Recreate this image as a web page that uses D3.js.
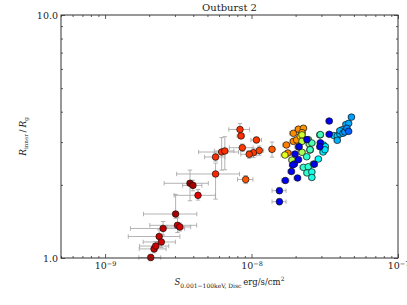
<!DOCTYPE html>
<html>
<head>
<meta charset="utf-8">
<script src="https://cdn.jsdelivr.net/npm/d3@7"></script>
<style>
  html, body { margin: 0; padding: 0; background: #fff; }
  svg { display: block; font-family: "DejaVu Serif", serif; }
</style>
</head>
<body>
<div id="chart"></div>
<script>
// Each row: [disc flux (erg/s/cm^2), R_inner/R_g, time fraction, flux err, R err low, R err high]
const riseEarly = [
    [2.05e-9, 1.005, 0.07, 0.35e-9, 0.03, 0.03],
    [2.16e-9, 1.09, 0.07, 0.45e-9, 0.04, 0.05],
    [2.22e-9, 1.12, 0.08, 0.5e-9, 0.05, 0.05],
    [2.42e-9, 1.164, 0.08, 0.6e-9, 0.06, 0.07],
    [2.34e-9, 1.226, 0.07, 0.9e-9, 0.07, 0.08],
    [2.49e-9, 1.323, 0.06, 1.0e-9, 0.08, 0.09],
    [3.12e-9, 1.363, 0.08, 1.1e-9, 0.09, 0.1],
    [3.24e-9, 1.342, 0.09, 0.6e-9, 0.05, 0.05],
    [3.03e-9, 1.517, 0.04, 1.2e-9, 0.06, 0.31],
    [4.31e-9, 1.811, 0.10, 1.35e-9, 0.08, 0.1],
    [3.80e-9, 2.03, 0.02, 1.27e-9, 0.31, 0.27],
    [3.98e-9, 1.99, 0.04, 0.6e-9, 0.1, 0.1]
];

const riseLate = [
    [5.68e-9, 2.217, 0.16, 2.6e-9, 0.47, 0.24],
    [9.12e-9, 2.104, 0.21, 1.1e-9, 0.08, 0.08],
    [5.68e-9, 2.604, 0.17, 0.9e-9, 0.1, 0.1],
    [6.25e-9, 2.73, 0.17, 1.9e-9, 0.43, 0.4],
    [6.57e-9, 2.757, 0.17, 1.0e-9, 0.45, 0.4],
    [8.34e-9, 3.38, 0.17, 1.35e-9, 0.2, 0.2],
    [8.47e-9, 3.18, 0.17, 0.5e-9, 0.08, 0.08],
    [1.08e-8, 3.06, 0.18, 0.9e-9, 0.08, 0.08],
    [8.65e-9, 2.844, 0.18, 1.6e-9, 0.1, 0.1],
    [1.13e-8, 2.769, 0.19, 0.8e-9, 0.12, 0.12],
    [1.03e-8, 2.712, 0.18, 1.0e-9, 0.12, 0.12],
    [9.64e-9, 2.672, 0.18, 1.2e-9, 0.1, 0.1],
    [1.38e-8, 2.80, 0.21, 0.6e-9, 0.2, 0.2]
];

const plateau = [
    [1.73e-8, 2.918, 0.25, 1.0e-9, 0.07, 0.07],
    [1.77e-8, 2.704, 0.25, 1.0e-9, 0.07, 0.07],
    [1.93e-8, 3.26, 0.26, 1.1e-9, 0.07, 0.07],
    [2.09e-8, 3.39, 0.26, 1.1e-9, 0.08, 0.08],
    [2.26e-8, 3.42, 0.27, 1.2e-9, 0.08, 0.08],
    [2.21e-8, 3.28, 0.28, 1.2e-9, 0.07, 0.07],
    [1.93e-8, 3.02, 0.26, 1.0e-9, 0.07, 0.07],
    [2.03e-8, 3.06, 0.27, 1.1e-9, 0.07, 0.07],
    [2.15e-8, 3.17, 0.34, 1.1e-9, 0.07, 0.07],
    [1.69e-8, 2.653, 0.40, 1.0e-9, 0.06, 0.06],
    [2.21e-8, 3.21, 0.42, 1.2e-9, 0.07, 0.07],
    [2.21e-8, 3.02, 0.44, 1.2e-9, 0.07, 0.07],
    [2.44e-8, 3.07, 0.49, 1.3e-9, 0.07, 0.07],
    [2.48e-8, 2.944, 0.50, 1.3e-9, 0.06, 0.06],
    [2.21e-8, 2.723, 0.46, 1.2e-9, 0.06, 0.06],
    [1.89e-8, 2.53, 0.45, 1.0e-9, 0.06, 0.06],
    [2.51e-8, 2.781, 0.52, 1.3e-9, 0.06, 0.06],
    [2.09e-8, 2.863, 0.47, 1.1e-9, 0.06, 0.06],
    [2.93e-8, 3.21, 0.55, 1.5e-9, 0.07, 0.07],
    [2.58e-8, 2.973, 0.55, 1.3e-9, 0.06, 0.06],
    [2.51e-8, 2.79, 0.56, 1.3e-9, 0.06, 0.06],
    [2.95e-8, 3.22, 0.56, 1.5e-9, 0.07, 0.07]
];

const cyanBranch = [
    [2.26e-8, 2.36, 0.58, 1.2e-9, 0.05, 0.05],
    [2.44e-8, 2.374, 0.58, 1.3e-9, 0.05, 0.05],
    [2.39e-8, 2.24, 0.58, 1.2e-9, 0.05, 0.05],
    [2.58e-8, 2.26, 0.60, 1.3e-9, 0.05, 0.05],
    [2.58e-8, 2.145, 0.60, 1.3e-9, 0.05, 0.05],
    [2.65e-8, 2.437, 0.58, 1.4e-9, 0.05, 0.05],
    [2.38e-8, 2.61, 0.58, 1.2e-9, 0.06, 0.06],
    [3.10e-8, 2.918, 0.64, 1.6e-9, 0.06, 0.06],
    [3.19e-8, 2.871, 0.64, 1.6e-9, 0.06, 0.06],
    [3.08e-8, 2.73, 0.64, 1.6e-9, 0.06, 0.06],
    [2.86e-8, 2.555, 0.63, 1.5e-9, 0.06, 0.06],
    [3.17e-8, 2.79, 0.65, 1.6e-9, 0.06, 0.06],
    [3.65e-8, 3.19, 0.67, 1.8e-9, 0.07, 0.07],
    [3.85e-8, 3.18, 0.67, 1.9e-9, 0.07, 0.07],
    [3.85e-8, 3.05, 0.70, 1.9e-9, 0.07, 0.07],
    [4.01e-8, 3.24, 0.69, 2.0e-9, 0.07, 0.07],
    [4.01e-8, 3.34, 0.70, 2.0e-9, 0.07, 0.07],
    [4.15e-8, 3.37, 0.69, 2.0e-9, 0.07, 0.07],
    [4.21e-8, 3.26, 0.71, 2.1e-9, 0.07, 0.07],
    [4.33e-8, 3.30, 0.73, 2.1e-9, 0.07, 0.07],
    [4.48e-8, 3.42, 0.74, 2.2e-9, 0.08, 0.08],
    [4.41e-8, 3.54, 0.70, 2.2e-9, 0.08, 0.08],
    [4.60e-8, 3.58, 0.71, 2.3e-9, 0.08, 0.08],
    [4.60e-8, 3.32, 0.78, 2.3e-9, 0.07, 0.07],
    [4.81e-8, 3.80, 0.72, 2.4e-9, 0.08, 0.08]
];

const blueBranch = [
    [2.11e-8, 2.871, 0.89, 1.1e-9, 0.06, 0.06],
    [1.98e-8, 2.679, 0.89, 1.0e-9, 0.06, 0.06],
    [2.95e-8, 2.98, 0.88, 1.5e-9, 0.06, 0.06],
    [2.93e-8, 2.87, 0.90, 1.5e-9, 0.06, 0.06],
    [1.96e-8, 2.437, 0.89, 1.0e-9, 0.05, 0.05],
    [1.91e-8, 2.414, 0.89, 1.0e-9, 0.05, 0.05],
    [1.87e-8, 2.27, 0.88, 1.0e-9, 0.05, 0.05],
    [1.70e-8, 2.084, 0.88, 1.0e-9, 0.05, 0.05],
    [2.06e-8, 2.134, 0.89, 1.1e-9, 0.05, 0.05],
    [1.55e-8, 1.892, 0.88, 1.7e-9, 0.05, 0.05],
    [1.55e-8, 1.705, 0.88, 1.7e-9, 0.05, 0.05],
    [2.39e-8, 3.07, 0.89, 1.2e-9, 0.06, 0.06],
    [3.39e-8, 3.66, 0.88, 1.7e-9, 0.07, 0.07],
    [3.39e-8, 3.23, 0.88, 1.7e-9, 0.06, 0.06],
    [2.68e-8, 2.43, 0.90, 1.4e-9, 0.05, 0.05],
    [2.09e-8, 2.54, 0.89, 1.1e-9, 0.05, 0.05]
];

const xMajor = [1e-9, 1e-8, 1e-7];
const xMajorExp = ['\u22129', '\u22128', '\u22127'];
const yMajor = [1, 10];
const yMajorLabels = ['1.0', '10.0'];
const yMinor = [2, 3, 4, 5, 6, 7, 8, 9];

const W = 407, H = 305;
const plot = { left: 61, right: 398, top: 15, bottom: 258 };

// jet colormap, time runs from red (early) to blue (late)
function jet(v) {
    const c = k => Math.round(255 * Math.max(0, Math.min(1, 1.5 - Math.abs(4 * v - k))));
    return `rgb(${c(3)},${c(2)},${c(1)})`;
}
const colour = d3.scaleSequential(t => jet(1 - t)).domain([0, 1]);

const points = [...riseEarly, ...riseLate, ...plateau, ...cyanBranch, ...blueBranch]
    .map(d => ({ f: d[0], r: d[1], t: d[2], fe: d[3], rlo: d[4], rhi: d[5] }))
    .sort((a, b) => a.t - b.t);

const svg = d3.select('#chart').append('svg')
    .attr('width', W)
    .attr('height', H);

const x = d3.scaleLog().domain([5e-10, 1e-7]).range([plot.left, plot.right]);
const y = d3.scaleLog().domain([1, 10]).range([plot.bottom, plot.top]);

const xMinor = x.ticks().filter(v => !xMajor.some(m => Math.abs(v - m) / m < 1e-6));

// ticks (inward, on all four sides)
function ticks(axis, vals, size, transform) {
    const g = svg.append('g')
        .attr('transform', transform)
        .call(axis.tickValues(vals).tickSize(size).tickSizeOuter(0).tickFormat(''));
    g.select('.domain').remove();
    g.selectAll('line').attr('stroke', '#333').attr('stroke-width', 0.8);
    return g;
}
ticks(d3.axisBottom(x), xMinor, -2, `translate(0,${plot.bottom})`);
ticks(d3.axisBottom(x), xMajor, -4, `translate(0,${plot.bottom})`);
ticks(d3.axisTop(x), xMinor, -2, `translate(0,${plot.top})`);
ticks(d3.axisTop(x), xMajor, -4, `translate(0,${plot.top})`);
ticks(d3.axisLeft(y), yMinor, -2, `translate(${plot.left},0)`);
ticks(d3.axisLeft(y), yMajor, -4, `translate(${plot.left},0)`);
ticks(d3.axisRight(y), yMinor, -2, `translate(${plot.right},0)`);
ticks(d3.axisRight(y), yMajor, -4, `translate(${plot.right},0)`);

// x tick labels 10^n
const xLab = svg.append('g')
    .attr('transform', `translate(0,${plot.bottom})`)
    .call(d3.axisBottom(x).tickValues(xMajor).tickSize(0).tickPadding(4).tickFormat(() => '10'));
xLab.select('.domain').remove();
xLab.selectAll('text')
    .attr('font-family', '"DejaVu Serif", serif')
    .attr('font-size', 9.5)
    .attr('fill', '#222')
    .each(function (d, i) {
        d3.select(this).append('tspan')
            .attr('dy', '-0.45em')
            .attr('font-size', 6.5)
            .text(xMajorExp[i]);
    });

// y tick labels
const yLab = svg.append('g')
    .attr('transform', `translate(${plot.left},0)`)
    .call(d3.axisLeft(y).tickValues(yMajor).tickSize(0).tickPadding(3).tickFormat((d, i) => yMajorLabels[i]));
yLab.select('.domain').remove();
yLab.selectAll('text')
    .attr('font-family', '"DejaVu Serif", serif')
    .attr('font-size', 9.5)
    .attr('fill', '#222');

// error bars
const cap = 2.2;
const eb = svg.append('g')
    .attr('stroke', '#aaa')
    .attr('stroke-width', 0.9)
    .attr('fill', 'none');

points.forEach(p => {
    const cx = x(p.f), cy = y(p.r);
    const x0 = x(p.f - p.fe), x1 = x(p.f + p.fe);
    const y0 = y(p.r - p.rlo), y1 = y(p.r + p.rhi);
    eb.append('line').attr('x1', x0).attr('x2', x1).attr('y1', cy).attr('y2', cy);
    eb.append('line').attr('x1', x0).attr('x2', x0).attr('y1', cy - cap).attr('y2', cy + cap);
    eb.append('line').attr('x1', x1).attr('x2', x1).attr('y1', cy - cap).attr('y2', cy + cap);
    eb.append('line').attr('x1', cx).attr('x2', cx).attr('y1', y0).attr('y2', y1);
    eb.append('line').attr('x1', cx - cap).attr('x2', cx + cap).attr('y1', y0).attr('y2', y0);
    eb.append('line').attr('x1', cx - cap).attr('x2', cx + cap).attr('y1', y1).attr('y2', y1);
});

// markers
svg.append('g')
    .selectAll('circle')
    .data(points)
    .join('circle')
    .attr('cx', d => x(d.f))
    .attr('cy', d => y(d.r))
    .attr('r', 3.3)
    .attr('fill', d => colour(d.t))
    .attr('stroke', '#111')
    .attr('stroke-width', 0.7);

// frame
svg.append('rect')
    .attr('x', plot.left)
    .attr('y', plot.top)
    .attr('width', plot.right - plot.left)
    .attr('height', plot.bottom - plot.top)
    .attr('fill', 'none')
    .attr('stroke', '#333')
    .attr('stroke-width', 1);

// title
svg.append('text')
    .attr('x', (plot.left + plot.right) / 2)
    .attr('y', 11)
    .attr('text-anchor', 'middle')
    .attr('font-size', 10)
    .attr('fill', '#222')
    .text('Outburst 2');

// x label
const xl = svg.append('text')
    .attr('x', (plot.left + plot.right) / 2)
    .attr('y', 285)
    .attr('text-anchor', 'middle')
    .attr('font-size', 8.5)
    .attr('fill', '#222');
xl.append('tspan').attr('font-style', 'italic').text('S');
xl.append('tspan').attr('dy', 2.5).attr('font-size', 6).text('0.001\u2212100keV, Disc');
xl.append('tspan').attr('dy', -2.5).text('\u2009erg/s/cm');
xl.append('tspan').attr('dy', -4).attr('font-size', 6).text('2');

// y label
const yl = svg.append('text')
    .attr('transform', `translate(26,${(plot.top + plot.bottom) / 2}) rotate(-90)`)
    .attr('text-anchor', 'middle')
    .attr('font-size', 9)
    .attr('fill', '#222');
yl.append('tspan').attr('font-style', 'italic').text('R');
yl.append('tspan').attr('dy', 2).attr('font-size', 5.5).text('inner');
yl.append('tspan').attr('dy', -2).text('\u2009/\u2009');
yl.append('tspan').attr('font-style', 'italic').text('R');
yl.append('tspan').attr('dy', 2).attr('font-size', 5.5).text('g');
</script>
</body>
</html>
